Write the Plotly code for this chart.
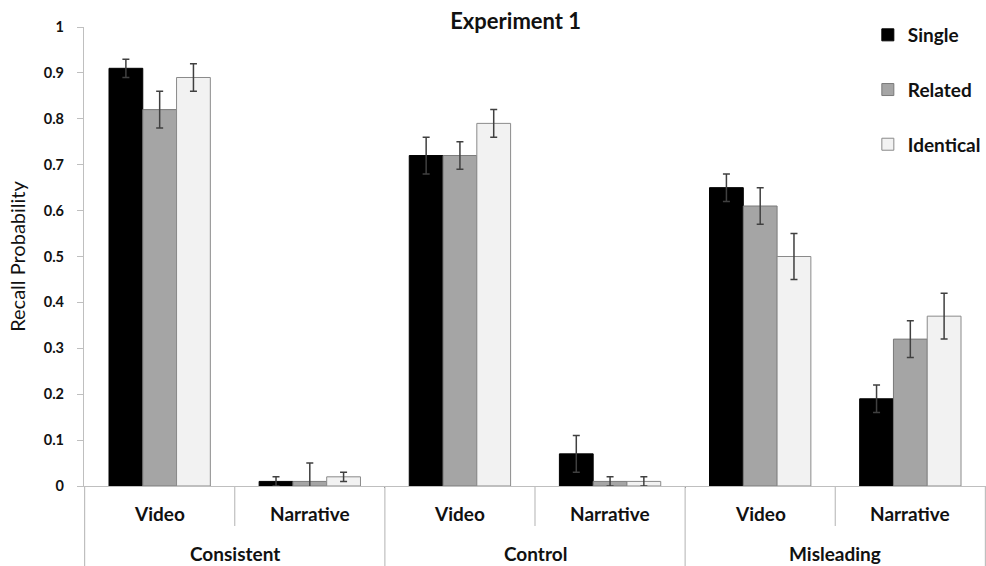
import plotly.graph_objects as go

# Conditions (outer) and source (inner) for each group of bars
conditions = ["Consistent", "Consistent", "Control", "Control", "Misleading", "Misleading"]
sources = ["Video", "Narrative", "Video", "Narrative", "Video", "Narrative"]

# Mean recall probability per test type
single = [0.91, 0.01, 0.72, 0.07, 0.65, 0.19]
related = [0.82, 0.01, 0.72, 0.01, 0.61, 0.32]
identical = [0.89, 0.02, 0.79, 0.01, 0.50, 0.37]

# Standard errors
single_err = [0.02, 0.01, 0.04, 0.04, 0.03, 0.03]
related_err = [0.04, 0.04, 0.03, 0.01, 0.04, 0.04]
identical_err = [0.03, 0.01, 0.03, 0.01, 0.05, 0.05]

series = [
    ("Single", single, single_err, "#000000", "#000000"),
    ("Related", related, related_err, "#a5a5a5", "#7a7a7a"),
    ("Identical", identical, identical_err, "#f2f2f2", "#8a8a8a"),
]

FONT = "Lato"
INK = "#111111"
GRID = "#bfbfbf"

PLOT_H = 459  # plot-area height in px, used to place labels under the axis

fig = go.Figure()
for name, vals, errs, fill, edge in series:
    fig.add_trace(go.Bar(
        name=name,
        x=[conditions, sources],
        y=vals,
        marker=dict(color=fill, line=dict(color=edge, width=1)),
        error_y=dict(type="data", array=errs, visible=True,
                     color="#404040", thickness=1.5, width=3.5),
        legendgroup=name,
    ))

# Inner labels (Video / Narrative) under each slot
for i, src in enumerate(sources):
    fig.add_annotation(x=i, y=-27 / PLOT_H, xref="x", yref="paper",
                       text=src, showarrow=False, yanchor="middle",
                       font=dict(family=FONT, size=19, color=INK, weight="bold"))

# Outer labels (conditions) centred under their pair of slots
groups = list(dict.fromkeys(conditions))
for g in groups:
    idx = [i for i, c in enumerate(conditions) if c == g]
    fig.add_annotation(x=sum(idx) / len(idx), y=-67 / PLOT_H, xref="x", yref="paper",
                       text=g, showarrow=False, yanchor="middle",
                       font=dict(family=FONT, size=19, color=INK, weight="bold"))

# Separators: short ones between inner labels, full-height ones between conditions
n = len(sources)
for k in range(n + 1):
    xpos = k - 0.5
    full = (k % 2 == 0)
    fig.add_shape(type="line", xref="x", yref="paper",
                  x0=xpos, x1=xpos, y0=0, y1=(-80 / PLOT_H if full else -40 / PLOT_H),
                  line=dict(color=GRID, width=1.2))

fig.update_layout(
    width=986, height=566,
    margin=dict(l=84, r=0, t=27, b=80),
    paper_bgcolor="white", plot_bgcolor="white",
    barmode="group", bargap=0.325, bargroupgap=0,
    title=dict(text="Experiment 1", x=0.523, xanchor="center",
               y=1 - 21 / 566, yanchor="middle",
               font=dict(family=FONT, size=22, color=INK, weight="bold")),
    legend=dict(x=0.869, xanchor="left", y=1.024, yanchor="top",
                font=dict(family=FONT, size=19, color=INK, weight="bold"),
                tracegroupgap=27, bgcolor="rgba(0,0,0,0)", itemwidth=30),
    showlegend=True,
)

fig.update_yaxes(
    range=[0, 1], dtick=0.1, showgrid=False, zeroline=False,
    showline=True, linecolor=GRID, linewidth=1.2,
    ticks="outside", ticklen=6, tickcolor=GRID,
    ticklabelstandoff=10,
    tickfont=dict(family=FONT, size=14.5, color=INK, weight="bold"),
    title=dict(text="Recall Probability", standoff=12,
               font=dict(family=FONT, size=20, color=INK)),
)

fig.update_xaxes(
    showgrid=False, showline=True, linecolor=GRID, linewidth=1.2,
    ticks="", showticklabels=False,
)

fig.write_html("out.html")
